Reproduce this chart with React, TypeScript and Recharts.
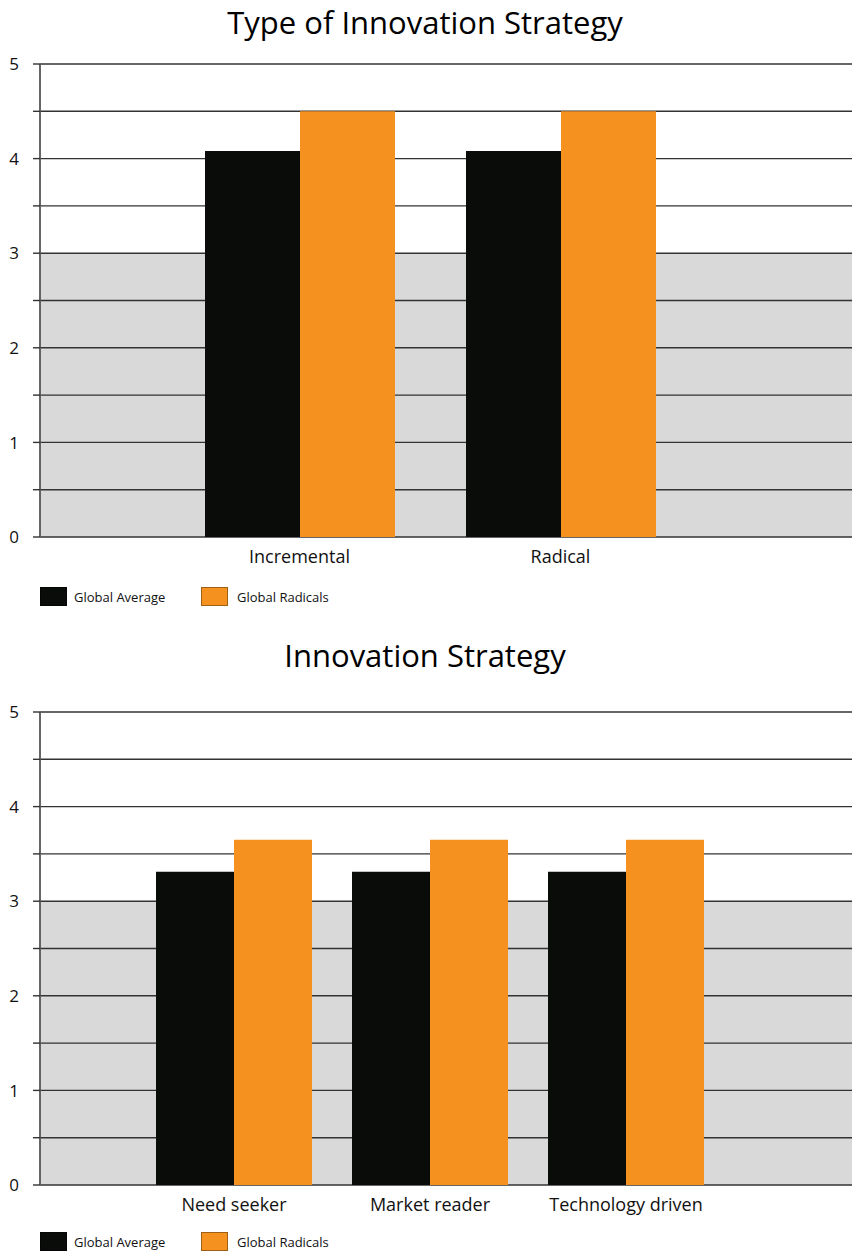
import { BarChart, Bar, XAxis, YAxis, CartesianGrid } from 'recharts';

const FONT = '"Open Sans", "Noto Sans", sans-serif';

const typeCategories = ['Incremental', 'Radical'];
const typeGlobalAverage = [4.08, 4.08];
const typeGlobalRadicals = [4.5, 4.5];

const strategyCategories = ['Need seeker', 'Market reader', 'Technology driven'];
const strategyGlobalAverage = [3.31, 3.31, 3.31];
const strategyGlobalRadicals = [3.65, 3.65, 3.65];

const yTicks = [0, 0.5, 1, 1.5, 2, 2.5, 3, 3.5, 4, 4.5, 5];
const seriesNames = ['Global Average', 'Global Radicals'];
const COLORS = ['#0a0c09', '#f5921f'];

// stripes top -> bottom: white above 3, grey from 3 down to 0
const STRIPES = ['#ffffff', '#ffffff', '#ffffff', '#ffffff', '#d9d9d9', '#d9d9d9', '#d9d9d9', '#d9d9d9', '#d9d9d9', '#d9d9d9', '#ffffff'];

const YTick = (props: any) => {
  const { x, y, payload } = props;
  if (!Number.isInteger(payload.value)) return <g />;
  return (
    <text x={x} y={y} dy="0.36em" textAnchor="end" fontSize={17} fontFamily={FONT} fill="#111">
      {payload.value}
    </text>
  );
};

interface PanelProps {
  categories: string[];
  average: number[];
  radicals: number[];
  padLeft: number;
  padRight: number;
  barSize: number;
}

function Panel({ categories, average, radicals, padLeft, padRight, barSize }: PanelProps) {
  const data = categories.map((name, i) => ({ name, average: average[i], radicals: radicals[i] }));
  return (
    <BarChart width={854} height={575} data={data} margin={{ top: 64, right: 2, left: 0, bottom: 8 }} barGap={0} barSize={barSize}>
      <CartesianGrid vertical={false} stroke="#333" strokeWidth={1.4} horizontalFill={STRIPES} fillOpacity={1} />
      <XAxis
        dataKey="name"
        axisLine={false}
        tickLine={false}
        tickSize={0}
        tickMargin={13}
        height={30}
        padding={{ left: padLeft, right: padRight }}
        tick={{ fontSize: 18, fill: '#111', fontFamily: FONT }}
        interval={0}
      />
      <YAxis
        domain={[0, 5]}
        ticks={yTicks}
        interval={0}
        width={40}
        tickSize={7}
        tickMargin={14}
        tick={<YTick />}
        axisLine={{ stroke: '#555', strokeWidth: 1.8 }}
        tickLine={{ stroke: '#333', strokeWidth: 1.4 }}
      />
      <Bar dataKey="average" name={seriesNames[0]} fill={COLORS[0]} isAnimationActive={false} />
      <Bar dataKey="radicals" name={seriesNames[1]} fill={COLORS[1]} isAnimationActive={false} />
    </BarChart>
  );
}

function LegendRow({ top }: { top: number }) {
  const items = [
    { left: 40, text: 74 },
    { left: 201, text: 237 },
  ];
  return (
    <>
      {items.map((it, i) => (
        <div key={i}>
          <div
            style={{
              position: 'absolute',
              left: it.left,
              top,
              width: 27,
              height: 19,
              background: COLORS[i],
              boxSizing: 'border-box',
              border: '1px solid rgba(0,0,0,0.35)',
            }}
          />
          <div
            style={{
              position: 'absolute',
              left: it.text,
              top: top + 1,
              height: 19,
              lineHeight: '19px',
              fontSize: 13,
              fontFamily: FONT,
              color: '#111',
              whiteSpace: 'nowrap',
            }}
          >
            {seriesNames[i]}
          </div>
        </div>
      ))}
    </>
  );
}

function Title({ text, baseline }: { text: string; baseline: number }) {
  return (
    <svg width={854} height={46} style={{ position: 'absolute', left: 0, top: baseline - 34 }}>
      <text x={425} y={34} textAnchor="middle" fontSize={31} fontFamily={FONT} fill="#000">
        {text}
      </text>
    </svg>
  );
}

export default function App() {
  return (
    <div style={{ position: 'absolute', left: 0, top: 0, width: 854, height: 1253, background: '#fff', overflow: 'hidden' }}>
      <div style={{ position: 'absolute', left: 0, top: 0 }}>
        <Panel
          categories={typeCategories}
          average={typeGlobalAverage}
          radicals={typeGlobalRadicals}
          padLeft={129}
          padRight={161}
          barSize={95}
        />
      </div>
      <Title text="Type of Innovation Strategy" baseline={34} />
      <LegendRow top={587} />

      <div style={{ position: 'absolute', left: 0, top: 648 }}>
        <Panel
          categories={strategyCategories}
          average={strategyGlobalAverage}
          radicals={strategyGlobalRadicals}
          padLeft={96}
          padRight={128}
          barSize={78}
        />
      </div>
      <Title text="Innovation Strategy" baseline={667} />
      <LegendRow top={1232} />
    </div>
  );
}
